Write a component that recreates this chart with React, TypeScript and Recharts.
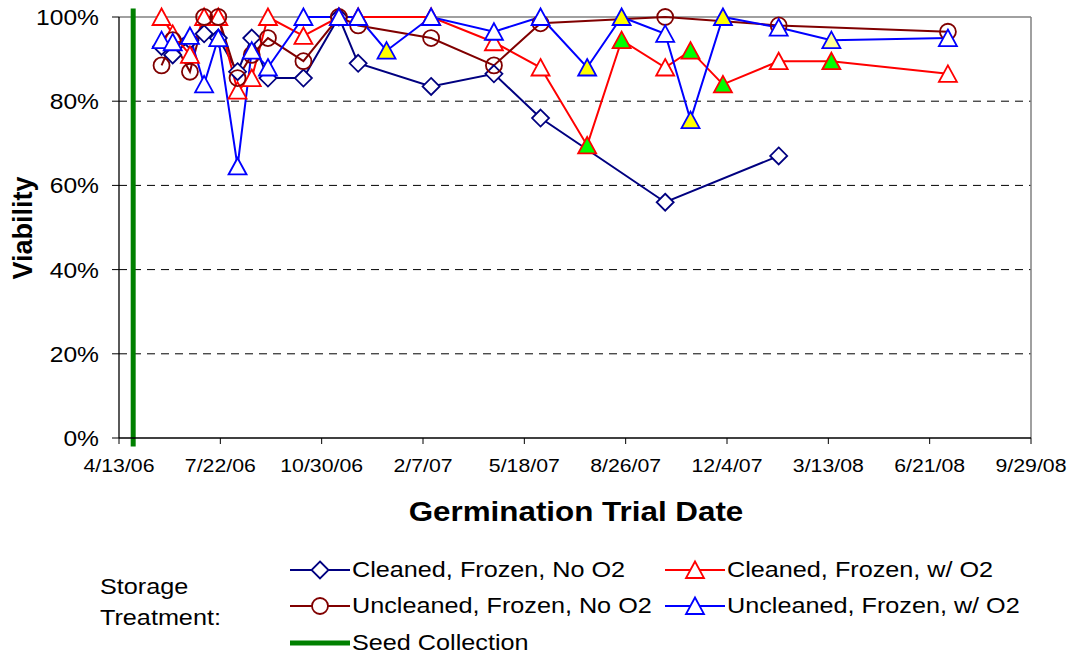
import { LineChart, Line, XAxis, YAxis, ReferenceLine } from "recharts";

// trial dates (M/D/YY) shared by all four storage treatments
const trialDates = [
    "5/25/06", "6/5/06", "6/22/06", "7/6/06", "7/20/06", "8/8/06", "8/22/06", "9/7/06",
    "10/12/06", "11/16/06", "12/5/06", "1/2/07", "2/15/07", "4/18/07", "6/3/07", "7/19/07",
    "8/22/07", "10/4/07", "10/29/07", "11/30/07", "1/24/08", "3/16/08", "7/9/08",
];

// viability (%) per trial date, null where not tested
const cleanedNoO2 = [
    93, 91, 94.5, 96, 95, 87, 95, 85.5, 85.5, 100, 89, null, 83.5, 86.5, 76, null,
    null, 56, null, null, 67, null, null,
];
const cleanedWithO2 = [
    100, 96, 91, 100, 100, 82.5, 85.5, 100, 95.5, 100, 100, null, 100, 94, 88, 69.5,
    94.5, 88, 92, 84, 89.5, 89.5, 86.5,
];
const uncleanedNoO2 = [
    88.5, 94.5, 87, 100, 100, 85.5, 91, 95, 89.5, 100, 98, null, 95, 88.5, 98.5, null,
    null, 100, null, null, 98, null, 96.5,
];
const uncleanedWithO2 = [
    94.5, 94, 95.5, 84, 95, 64.5, 92, 88, 100, 100, 100, 92, 100, 96.5, 100, 88,
    100, 96, 75.5, 100, 97.5, 94.5, 95,
];

// points drawn with a filled marker in the original
const greenMarkedDates = ["7/19/07", "8/22/07", "10/29/07", "11/30/07", "3/16/08"];
const yellowMarkedDates = ["1/2/07", "7/19/07", "8/22/07", "10/29/07", "11/30/07"];
const paleMarkedDates = ["3/16/08"];

const seedCollectionDate = "4/27/06";

const xTickLabels = [
    "4/13/06", "7/22/06", "10/30/06", "2/7/07", "5/18/07",
    "8/26/07", "12/4/07", "3/13/08", "6/21/08", "9/29/08",
];
const yTicks = [0, 20, 40, 60, 80, 100];

const NAVY = "#000080";
const RED = "#FF0000";
const BROWN = "#800000";
const BLUE = "#0000FF";
const GREEN = "#008000";
const FONT = "'Liberation Sans', Arial, sans-serif";

const toDay = (s: string) => {
    const [m, d, y] = s.split("/").map(Number);
    return Date.UTC(2000 + y, m - 1, d) / 86400000;
};

const xTicks = xTickLabels.map(toDay);
const xMin = xTicks[0];
const xMax = xTicks[xTicks.length - 1];
const seedDay = toDay(seedCollectionDate);

const data = trialDates.map((d, i) => ({
    day: toDay(d),
    label: d,
    cfn: cleanedNoO2[i],
    cfw: cleanedWithO2[i],
    ufn: uncleanedNoO2[i],
    ufw: uncleanedWithO2[i],
}));

type Kind = "diamond" | "circle" | "triangle";

function Marker({ cx, cy, kind, stroke, fill }: { cx?: number; cy?: number; kind: Kind; stroke: string; fill: string }) {
    if (cx == null || cy == null || isNaN(cx) || isNaN(cy)) return <g />;
    if (kind === "diamond") {
        return (
            <path
                d={`M${cx},${cy - 8.5} L${cx + 8.5},${cy} L${cx},${cy + 8.5} L${cx - 8.5},${cy} Z`}
                fill={fill}
                stroke={stroke}
                strokeWidth={1.8}
            />
        );
    }
    if (kind === "circle") {
        return <circle cx={cx} cy={cy} r={8} fill={fill} stroke={stroke} strokeWidth={1.8} />;
    }
    return (
        <path
            d={`M${cx},${cy - 8.5} L${cx + 9},${cy + 8} L${cx - 9},${cy + 8} Z`}
            fill={fill}
            stroke={stroke}
            strokeWidth={1.8}
        />
    );
}

const XTick = (props: any) => {
    const { x, y, payload } = props;
    const label = xTickLabels[xTicks.indexOf(payload.value)] ?? "";
    return (
        <text
            x={0}
            y={0}
            dy="0.71em"
            transform={`translate(${x},${y}) scale(1.12,1)`}
            textAnchor="middle"
            fontSize={19}
            fontFamily={FONT}
            fill="#000"
        >
            {label}
        </text>
    );
};

const YTick = (props: any) => {
    const { x, y, payload } = props;
    return (
        <text
            x={0}
            y={0}
            dy="0.36em"
            transform={`translate(${x},${y}) scale(1.12,1)`}
            textAnchor="end"
            fontSize={22}
            fontFamily={FONT}
            fill="#000"
        >
            {`${payload.value}%`}
        </text>
    );
};

const legendText = {
    position: "absolute" as const,
    fontFamily: FONT,
    fontSize: 22.5,
    lineHeight: "26px",
    whiteSpace: "nowrap" as const,
    transform: "scaleX(1.12)",
    transformOrigin: "left center",
    color: "#000",
};

function LegendItem({ left, top, kind, stroke, label }: { left: number; top: number; kind?: Kind; stroke: string; label: string }) {
    return (
        <>
            <svg style={{ position: "absolute", left, top: top - 12 }} width={62} height={24}>
                <line x1={0} y1={12} x2={60} y2={12} stroke={stroke} strokeWidth={kind ? 2 : 5} />
                {kind && <Marker cx={30} cy={12} kind={kind} stroke={stroke} fill="#fff" />}
            </svg>
            <div style={{ ...legendText, left: left + 62, top: top - 13 }}>{label}</div>
        </>
    );
}

export default function App() {
    return (
        <div style={{ position: "absolute", left: 0, top: 0, width: 1068, height: 657, background: "#fff" }}>
            <LineChart
                width={1068}
                height={657}
                data={data}
                margin={{ top: 17, right: 37, bottom: 159, left: 19 }}
            >
                <XAxis
                    dataKey="day"
                    type="number"
                    domain={[xMin, xMax]}
                    ticks={xTicks}
                    tick={<XTick />}
                    tickSize={6}
                    tickMargin={15}
                    height={60}
                    axisLine={{ stroke: "#000", strokeWidth: 1.3 }}
                    tickLine={{ stroke: "#000" }}
                    interval={0}
                />
                <YAxis
                    type="number"
                    domain={[0, 100]}
                    ticks={yTicks}
                    tick={<YTick />}
                    tickSize={7}
                    tickMargin={13}
                    width={100}
                    axisLine={{ stroke: "#000", strokeWidth: 1.3 }}
                    tickLine={{ stroke: "#000" }}
                    interval={0}
                />
                {yTicks
                    .filter((v) => v > 0 && v < 100)
                    .map((v) => (
                        <ReferenceLine key={v} y={v} stroke="#000" strokeDasharray="8 6" />
                    ))}
                <ReferenceLine y={100} stroke="#808080" strokeWidth={1.5} />
                <ReferenceLine x={xMax} stroke="#808080" strokeWidth={1.5} />
                <ReferenceLine
                    segment={[{ x: seedDay, y: -2 }, { x: seedDay, y: 102 }]}
                    stroke={GREEN}
                    strokeWidth={5}
                    ifOverflow="visible"
                />

                <Line
                    dataKey="cfn"
                    stroke={NAVY}
                    strokeWidth={2}
                    connectNulls
                    isAnimationActive={false}
                    activeDot={false}
                    dot={(p: any) => (
                        <Marker key={`cfn-${p.index}`} cx={p.cx} cy={p.cy} kind="diamond" stroke={NAVY} fill="#fff" />
                    )}
                />
                <Line
                    dataKey="cfw"
                    stroke={RED}
                    strokeWidth={2}
                    connectNulls
                    isAnimationActive={false}
                    activeDot={false}
                    dot={(p: any) => (
                        <Marker
                            key={`cfw-${p.index}`}
                            cx={p.cx}
                            cy={p.cy}
                            kind="triangle"
                            stroke={RED}
                            fill={greenMarkedDates.includes(p.payload?.label) ? "#00FF00" : "#fff"}
                        />
                    )}
                />
                <Line
                    dataKey="ufn"
                    stroke={BROWN}
                    strokeWidth={2}
                    connectNulls
                    isAnimationActive={false}
                    activeDot={false}
                    dot={(p: any) => (
                        <Marker key={`ufn-${p.index}`} cx={p.cx} cy={p.cy} kind="circle" stroke={BROWN} fill="none" />
                    )}
                />
                <Line
                    dataKey="ufw"
                    stroke={BLUE}
                    strokeWidth={2}
                    connectNulls
                    isAnimationActive={false}
                    activeDot={false}
                    dot={(p: any) => (
                        <Marker
                            key={`ufw-${p.index}`}
                            cx={p.cx}
                            cy={p.cy}
                            kind="triangle"
                            stroke={BLUE}
                            fill={
                                yellowMarkedDates.includes(p.payload?.label)
                                    ? "#FFFF00"
                                    : paleMarkedDates.includes(p.payload?.label)
                                    ? "#FFFF99"
                                    : "#fff"
                            }
                        />
                    )}
                />
            </LineChart>

            {/* axis titles */}
            <div
                style={{
                    position: "absolute",
                    left: 23,
                    top: 228,
                    transform: "translate(-50%, -50%) rotate(-90deg)",
                    fontFamily: FONT,
                    fontWeight: "bold",
                    fontSize: 27,
                    whiteSpace: "nowrap",
                }}
            >
                Viability
            </div>
            <div
                style={{
                    position: "absolute",
                    left: 576,
                    top: 512,
                    transform: "translate(-50%, -50%) scaleX(1.12)",
                    fontFamily: FONT,
                    fontWeight: "bold",
                    fontSize: 28,
                    whiteSpace: "nowrap",
                }}
            >
                Germination Trial Date
            </div>

            {/* legend */}
            <div style={{ ...legendText, left: 100, top: 574 }}>Storage</div>
            <div style={{ ...legendText, left: 100, top: 605 }}>Treatment:</div>
            <LegendItem left={290} top={570} kind="diamond" stroke={NAVY} label="Cleaned, Frozen, No O2" />
            <LegendItem left={665} top={570} kind="triangle" stroke={RED} label="Cleaned, Frozen, w/ O2" />
            <LegendItem left={290} top={606} kind="circle" stroke={BROWN} label="Uncleaned, Frozen, No O2" />
            <LegendItem left={665} top={606} kind="triangle" stroke={BLUE} label="Uncleaned, Frozen, w/ O2" />
            <LegendItem left={290} top={643} stroke={GREEN} label="Seed Collection" />
        </div>
    );
}
